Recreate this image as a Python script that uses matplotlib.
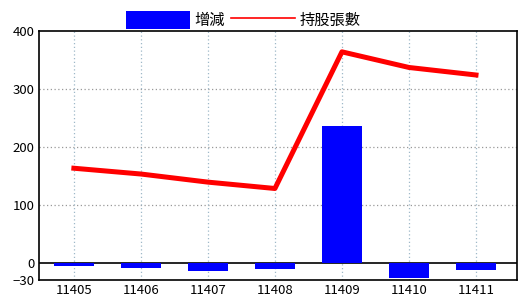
import matplotlib.pyplot as plt
from matplotlib.lines import Line2D
import numpy as np

# chart data
months = ['11405', '11406', '11407', '11408', '11409', '11410', '11411']
change = [-6, -10, -14, -11, 236, -27, -13]
holdings = [163, 153, 139, 128, 364, 337, 324]
y_ticks = [-30, 0, 100, 200, 300, 400]

plt.rcParams['font.family'] = ['Noto Sans CJK TC', 'DejaVu Sans']

fig = plt.figure(figsize=(5.2, 3.0), dpi=100)
ax = fig.add_axes([0.075, 0.0667, 0.919, 0.83])

x = np.arange(len(months))
bars = ax.bar(x, change, width=0.6, color='#0000ff', zorder=3, label='增減')
ax.plot(x, holdings, color='#ff0000', linewidth=3.6, zorder=4)

ax.axhline(0, color='black', linewidth=1.2, zorder=2)

ax.set_xlim(-0.52, 6.61)
ax.set_ylim(-30, 400)
ax.set_xticks(x)
ax.set_xticklabels(months)
ax.set_yticks(y_ticks)
ax.tick_params(axis='both', length=0, labelsize=9.5, pad=3)

# dotted grid
for yv in [100, 200, 300]:
    ax.axhline(yv, color='#999999', linestyle=(0, (1, 2)), linewidth=0.9, zorder=1)
for xv in x:
    ax.axvline(xv, color='#9fb8c8', linestyle=(0, (1, 2)), linewidth=0.9, zorder=1)

for s in ax.spines.values():
    s.set_color('black')
    s.set_linewidth(1.2)

# legend uses a thin line as in the original
line_proxy = Line2D([], [], color='#ff0000', linewidth=1.2, label='持股張數')
fig.legend(handles=[bars, line_proxy], loc='upper center', bbox_to_anchor=(0.468, 1.01),
           ncol=2, frameon=False, fontsize=11, handlelength=4.2, handleheight=1.45,
           handletextpad=0.3, columnspacing=0.4)

fig.savefig('out.png', dpi=100)
